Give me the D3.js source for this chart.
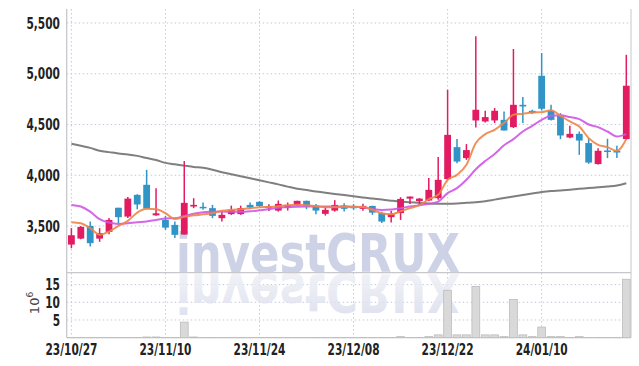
<!DOCTYPE html>
<html><head><meta charset="utf-8">
<script src="https://cdn.jsdelivr.net/npm/d3@7"></script>
<style>html,body{margin:0;padding:0;background:#fff;}svg{display:block;}</style>
</head><body>
<svg id="chart" width="639" height="366"></svg>
<script>
const dates = ["23/10/27","23/10/30","23/10/31","23/11/01","23/11/02","23/11/03","23/11/06","23/11/07","23/11/08","23/11/09",
"23/11/10","23/11/13","23/11/14","23/11/15","23/11/16","23/11/17","23/11/20","23/11/21","23/11/22","23/11/23",
"23/11/24","23/11/27","23/11/28","23/11/29","23/11/30","23/12/01","23/12/04","23/12/05","23/12/06","23/12/07",
"23/12/08","23/12/11","23/12/12","23/12/13","23/12/14","23/12/15","23/12/18","23/12/19","23/12/20","23/12/21",
"23/12/22","23/12/26","23/12/27","23/12/28","24/01/02","24/01/03","24/01/04","24/01/05","24/01/08","24/01/09",
"24/01/10","24/01/11","24/01/12","24/01/15","24/01/16","24/01/17","24/01/18","24/01/19","24/01/22","24/01/23"];
const open  = [3317,3376,3501,3376,3442,3680,3593,3807,3906,3605, 3560,3511,3416,3692,3689,3676,3577,3617,3617,3708,
               3738,3676,3652,3682,3701,3748,3701,3620,3652,3701, 3695,3669,3698,3627,3587,3627,3770,3745,3751,3774,
               3962,4277,4169,4540,4530,4540,4546,4474,4694,4635, 4980,4635,4586,4372,4408,4317,4110,4244,4241,4356];
const high  = [3479,3500,3544,3479,3580,3680,3785,3814,4053,3873, 3600,3544,4140,3774,3731,3708,3649,3701,3701,3731,
               3745,3715,3751,3731,3750,3750,3718,3692,3755,3724, 3715,3720,3700,3640,3650,3784,3790,3775,3972,4179,
               4842,4356,4307,5370,4635,4662,4628,5244,4770,4645, 5204,4694,4612,4487,4431,4366,4267,4359,4290,5187];
const low   = [3281,3370,3297,3344,3420,3528,3580,3665,3666,3600, 3462,3382,3416,3676,3659,3577,3544,3610,3610,3669,
               3690,3649,3642,3652,3700,3666,3617,3603,3642,3642, 3660,3650,3610,3530,3534,3560,3718,3698,3745,3758,
               3955,4119,4152,4471,4520,4514,4441,4465,4514,4605, 4638,4540,4356,4365,4201,4113,4105,4169,4169,4349];
const close = [3409,3491,3331,3429,3560,3587,3770,3712,3672,3625, 3484,3413,3728,3708,3675,3600,3610,3659,3676,3682,
               3696,3692,3718,3708,3748,3692,3652,3659,3708,3669, 3675,3698,3632,3544,3620,3767,3790,3770,3856,3955,
               4398,4135,4248,4645,4573,4635,4441,4694,4678,4612, 4655,4546,4392,4408,4342,4125,4241,4231,4224,4882];
const volume = [0.02,0.02,0.02,0.02,0.02,0.02,0.02,0.02,0.2,0.2, 0.02,0.02,4.4,0.2,0.02,0.02,0.02,0.02,0.02,0.02,
                0.02,0.02,0.02,0.02,0.02,0.02,0.02,0.02,0.02,0.02, 0.02,0.02,0.02,0.02,0.02,0.3,0.02,0.02,0.3,0.8,
                13.4,0.8,0.8,14.5,0.8,0.8,0.3,10.8,0.8,0.3, 3.0,0.3,0.3,0.02,0.3,0.02,0.02,0.02,0.02,16.5];
const ma5  = [3538,3528,3479,3413,3445,3501,3551,3632,3669,3666, 3627,3570,3590,3605,3615,3625,3650,3660,3665,3675,
              3685,3688,3695,3705,3710,3705,3695,3685,3685,3690, 3688,3688,3660,3625,3615,3645,3676,3705,3765,3807,
              3955,4004,4103,4317,4405,4448,4514,4596,4606,4619, 4622,4640,4585,4530,4480,4366,4300,4277,4241,4356];
const ma20 = [3708,3692,3642,3567,3534,3521,3528,3538,3544,3560, 3574,3577,3598,3620,3636,3640,3642,3640,3640,3645,
              3655,3665,3680,3685,3690,3692,3692,3692,3692,3692, 3690,3685,3668,3658,3662,3676,3692,3705,3718,3741,
              3824,3873,3955,4060,4140,4210,4295,4356,4431,4487, 4546,4586,4590,4573,4553,4500,4474,4431,4382,4405];
const ma60 = [4310,4290,4270,4241,4228,4215,4205,4191,4170,4150, 4122,4108,4095,4082,4073,4055,4030,4010,3990,3970,
              3950,3930,3910,3888,3868,3855,3840,3828,3816,3805, 3793,3780,3770,3760,3750,3741,3735,3728,3722,3720,
              3720,3722,3728,3735,3745,3760,3775,3790,3805,3820, 3835,3845,3850,3858,3866,3874,3882,3890,3900,3922];
const priceTicks = [3500,4000,4500,5000,5500];
const volTicks = [5,10,15];
const dateTickEvery = 10;

const svg = d3.select("#chart");
const L = 66.7, R = 631, PT = 9, PB = 272.7, VB = 337.7;
const idx = d3.range(dates.length);
const x = d3.scalePoint().domain(idx).range([L, R]).padding(0.5);
const step = x.step();
const y = d3.scaleLinear().domain([3040, 5638]).range([PB, PT]);
const yv = d3.scaleLinear().domain([0, 18.36]).range([VB, PB]);

const gridColor = "#c3c8dd";
const tickFont = "'DejaVu Sans Condensed','DejaVu Sans',sans-serif";
const dateTicks = idx.filter(i => i % dateTickEvery === 0);

// defs: fade for reflection
const defs = svg.append("defs");
const lg = defs.append("linearGradient").attr("id", "fade").attr("x1", 0).attr("y1", 0).attr("x2", 0).attr("y2", 1);
lg.append("stop").attr("offset", "0%").attr("stop-color", "#d6d9ea");
lg.append("stop").attr("offset", "100%").attr("stop-color", "#f4f5f9");

// grid
const grid = svg.append("g");
grid.selectAll(".hp").data(priceTicks).join("line")
  .attr("x1", L).attr("x2", R).attr("y1", d => y(d)).attr("y2", d => y(d))
  .attr("stroke", gridColor).attr("stroke-dasharray", "1.5,2.5");
grid.selectAll(".hv").data(volTicks).join("line")
  .attr("x1", L).attr("x2", R).attr("y1", d => yv(d)).attr("y2", d => yv(d))
  .attr("stroke", gridColor).attr("stroke-dasharray", "1.5,2.5");
grid.selectAll(".vv").data(dateTicks).join("line")
  .attr("x1", d => x(d)).attr("x2", d => x(d)).attr("y1", PT).attr("y2", VB)
  .attr("stroke", gridColor).attr("stroke-dasharray", "1.5,2.5");

// watermark
const wm = svg.append("g");
wm.append("text").attr("x", 176).attr("y", 272).text("investCRUX")
  .attr("font-family", "'DejaVu Sans',sans-serif").attr("font-weight", "bold")
  .attr("font-size", 54).attr("textLength", 284).attr("lengthAdjust", "spacingAndGlyphs")
  .attr("fill", "#c9cde3").attr("fill-opacity", 0.9);
wm.append("text").attr("x", 176).attr("y", 272).text("investCRUX")
  .attr("transform", "translate(0,546) scale(1,-1)")
  .attr("font-family", "'DejaVu Sans',sans-serif").attr("font-weight", "bold")
  .attr("font-size", 54).attr("textLength", 284).attr("lengthAdjust", "spacingAndGlyphs")
  .attr("fill", "url(#fade)").attr("fill-opacity", 0.85);

// frame
const frameColor = "#c8c8cc";
svg.append("line").attr("x1", L).attr("x2", L).attr("y1", PT).attr("y2", VB).attr("stroke", frameColor).attr("stroke-width", 1.3);
svg.append("line").attr("x1", R).attr("x2", R).attr("y1", PT).attr("y2", VB).attr("stroke", frameColor).attr("stroke-width", 1);
svg.append("line").attr("x1", L).attr("x2", R).attr("y1", PB).attr("y2", PB).attr("stroke", frameColor).attr("stroke-width", 1.3);
svg.append("line").attr("x1", L).attr("x2", R).attr("y1", VB).attr("y2", VB).attr("stroke", frameColor).attr("stroke-width", 1.3);

// volume bars
svg.append("g").selectAll("rect").data(idx).join("rect")
  .attr("x", i => x(i) - step/2 + 0.8).attr("width", step - 1.6)
  .attr("y", i => yv(volume[i])).attr("height", i => VB - yv(volume[i]))
  .attr("fill", "#d9d9d9").attr("stroke", "#bcbcbc").attr("stroke-width", 0.8);

// long MA
const line = arr => d3.line().x((d, i) => x(i)).y(d => y(d)).curve(d3.curveMonotoneX)(arr);
svg.append("path").attr("d", line(ma60)).attr("fill", "none").attr("stroke", "#7f7f7f").attr("stroke-width", 2);

// candles
const upC = "#e21b63", dnC = "#3194c7";
const cg = svg.append("g");
cg.selectAll("line").data(idx).join("line")
  .attr("x1", i => x(i)).attr("x2", i => x(i)).attr("y1", i => y(high[i])).attr("y2", i => y(low[i]))
  .attr("stroke", i => close[i] >= open[i] ? upC : dnC).attr("stroke-width", 1.5);
cg.selectAll("rect").data(idx).join("rect")
  .attr("x", i => x(i) - 3.4).attr("width", 6.8)
  .attr("y", i => y(Math.max(open[i], close[i])))
  .attr("height", i => Math.max(1.5, Math.abs(y(open[i]) - y(close[i]))))
  .attr("fill", i => close[i] >= open[i] ? upC : dnC);

// MA lines
svg.append("path").attr("d", line(ma20)).attr("fill", "none").attr("stroke", "#cf55e6").attr("stroke-width", 2).attr("stroke-opacity", 0.9);
svg.append("path").attr("d", line(ma5)).attr("fill", "none").attr("stroke", "#ee8548").attr("stroke-width", 2).attr("stroke-opacity", 0.9);

// axes labels
function narrow(sel, f) {
  sel.each(function() { const w = this.getComputedTextLength(); d3.select(this).attr("textLength", w * f).attr("lengthAdjust", "spacingAndGlyphs"); });
}
const NF = 0.76;
svg.append("g").selectAll("text").data(priceTicks).join("text")
  .attr("x", 60).attr("y", d => y(d)).attr("dy", "0.36em").attr("text-anchor", "end")
  .attr("font-family", tickFont).attr("font-size", 15.5).attr("font-weight", "bold").attr("fill", "#222")
  .text(d => d3.format(",")(d)).call(narrow, NF);
svg.append("g").selectAll("text").data(volTicks).join("text")
  .attr("x", 60).attr("y", d => yv(d)).attr("dy", "0.36em").attr("text-anchor", "end")
  .attr("font-family", tickFont).attr("font-size", 15.5).attr("font-weight", "bold").attr("fill", "#222")
  .text(d => d).call(narrow, NF);
svg.append("g").selectAll("text").data(dateTicks).join("text")
  .attr("x", d => x(d)).attr("y", 355).attr("text-anchor", "middle")
  .attr("font-family", tickFont).attr("font-size", 15.5).attr("font-weight", "bold").attr("fill", "#222")
  .text(d => dates[d]).call(narrow, NF);
const ul = svg.append("text").attr("transform", "translate(39,303) rotate(-90)").attr("text-anchor", "middle")
  .attr("font-family", "'DejaVu Sans',sans-serif").attr("font-size", 13).attr("fill", "#444");
ul.append("tspan").text("10");
ul.append("tspan").attr("dy", -6).attr("font-size", 9).text("6");
</script>
</body></html>
